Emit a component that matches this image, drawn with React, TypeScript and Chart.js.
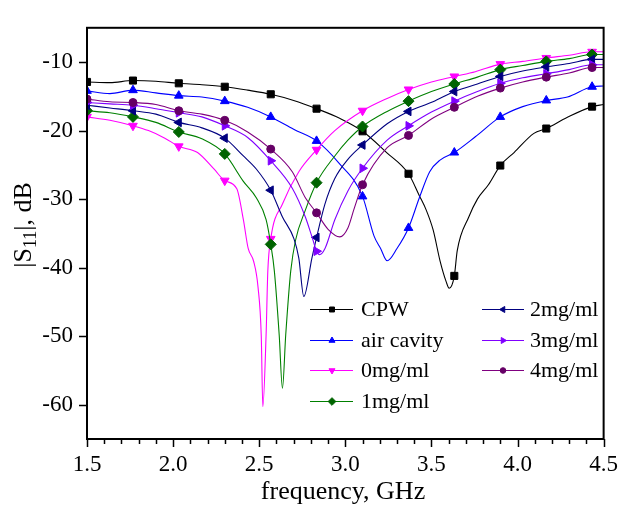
import React, { useEffect, useRef } from "react";
import { Chart, registerables } from "chart.js";
import { drawPoint } from "chart.js/helpers";

Chart.register(...registerables);

const seriesLabels = ["CPW", "air cavity", "0mg/ml", "1mg/ml", "2mg/ml", "3mg/ml", "4mg/ml"];

const cpwF = [1.5, 1.633, 1.767, 1.9, 2.033, 2.167, 2.3, 2.433, 2.567, 2.7, 2.833, 2.967, 3.1, 3.24, 3.367, 3.43, 3.47, 3.51, 3.55, 3.585, 3.603, 3.633, 3.65, 3.717, 3.767, 3.831, 3.9, 3.98, 4.095, 4.167, 4.287, 4.433, 4.5];
const cpwV = [-12.9, -13.0, -12.7, -12.8, -13.1, -13.3, -13.6, -14.1, -14.7, -15.6, -16.8, -18.2, -20.1, -23.2, -26.3, -29.5, -31.6, -34.5, -39.0, -42.0, -43.0, -41.2, -37.5, -32.6, -30.0, -27.9, -25.1, -23.2, -20.4, -19.7, -18.1, -16.5, -16.2];

const airF = [1.5, 1.633, 1.767, 1.9, 2.033, 2.167, 2.3, 2.433, 2.567, 2.7, 2.833, 2.958, 3.1, 3.167, 3.205, 3.243, 3.3, 3.367, 3.43, 3.49, 3.55, 3.633, 3.755, 3.9, 4.03, 4.167, 4.29, 4.433, 4.5];
const airV = [-14.2, -14.6, -14.1, -14.5, -14.9, -15.1, -15.7, -16.6, -18.0, -19.8, -21.5, -24.6, -29.6, -35.4, -37.2, -39.0, -37.2, -34.2, -29.8, -26.0, -24.3, -23.2, -20.9, -18.0, -16.5, -15.6, -15.1, -13.6, -13.5];

const mg0F = [1.5, 1.633, 1.767, 1.857, 1.952, 2.033, 2.142, 2.237, 2.3, 2.37, 2.408, 2.436, 2.468, 2.493, 2.512, 2.521, 2.54, 2.55, 2.567, 2.635, 2.73, 2.833, 2.939, 3.1, 3.243, 3.367, 3.5, 3.633, 3.755, 3.9, 4.03, 4.167, 4.3, 4.433, 4.5];
const mg0V = [-18.0, -18.5, -19.3, -20.0, -21.1, -22.3, -23.2, -25.6, -27.3, -28.5, -33.0, -37.2, -39.1, -42.8, -50.0, -60.3, -49.8, -40.5, -35.8, -30.7, -26.0, -22.8, -20.0, -17.1, -15.3, -14.0, -12.9, -12.1, -11.4, -10.3, -9.9, -9.4, -9.0, -8.5, -8.5];

const mg1F = [1.5, 1.633, 1.767, 1.9, 2.033, 2.167, 2.3, 2.408, 2.483, 2.54, 2.567, 2.588, 2.616, 2.635, 2.654, 2.683, 2.711, 2.768, 2.833, 2.939, 3.015, 3.1, 3.243, 3.367, 3.5, 3.633, 3.767, 3.9, 4.03, 4.167, 4.3, 4.433, 4.5];
const mg1V = [-17.1, -17.4, -18.0, -18.8, -20.2, -21.2, -23.4, -27.4, -29.8, -33.0, -36.6, -40.5, -49.8, -57.6, -49.8, -40.5, -36.0, -31.6, -27.6, -23.7, -21.4, -19.4, -17.2, -15.7, -14.3, -13.2, -12.2, -11.1, -10.5, -9.9, -9.5, -8.9, -8.9];

const mg2F = [1.5, 1.633, 1.767, 1.9, 2.033, 2.167, 2.3, 2.408, 2.483, 2.567, 2.635, 2.702, 2.73, 2.759, 2.806, 2.833, 2.882, 2.939, 3.015, 3.1, 3.243, 3.367, 3.509, 3.633, 3.767, 3.9, 4.03, 4.167, 4.3, 4.433, 4.5];
const mg2V = [-16.3, -16.7, -17.1, -17.6, -18.8, -19.6, -21.1, -23.7, -25.6, -28.7, -32.6, -35.8, -38.6, -44.2, -38.6, -35.6, -30.7, -27.0, -24.2, -22.1, -19.0, -17.2, -15.8, -14.3, -13.2, -12.1, -11.3, -10.7, -10.2, -9.6, -9.6];

const mg3F = [1.5, 1.633, 1.767, 1.9, 2.033, 2.167, 2.3, 2.433, 2.567, 2.692, 2.768, 2.81, 2.833, 2.85, 2.882, 2.939, 3.015, 3.1, 3.243, 3.367, 3.5, 3.633, 3.767, 3.9, 4.03, 4.167, 4.3, 4.433, 4.5];
const mg3V = [-15.9, -16.1, -16.3, -16.8, -17.4, -18.0, -19.3, -21.0, -24.4, -28.4, -32.6, -35.8, -37.6, -38.1, -37.2, -33.0, -28.8, -25.5, -21.4, -19.3, -17.3, -15.7, -14.3, -13.1, -12.3, -11.7, -11.1, -10.4, -10.4];

const mg4F = [1.5, 1.633, 1.767, 1.9, 2.033, 2.167, 2.3, 2.433, 2.567, 2.692, 2.768, 2.833, 2.9, 2.968, 3.015, 3.05, 3.1, 3.243, 3.367, 3.5, 3.633, 3.767, 3.9, 4.03, 4.167, 4.3, 4.433, 4.5];
const mg4V = [-15.4, -15.8, -15.9, -16.2, -17.1, -17.6, -18.5, -20.2, -22.7, -26.0, -29.8, -32.0, -34.4, -35.5, -34.2, -31.5, -27.9, -22.5, -20.7, -18.3, -16.6, -15.0, -13.8, -12.9, -12.2, -11.6, -10.8, -10.8];

const xMajorTicks = [1.5, 2.0, 2.5, 3.0, 3.5, 4.0, 4.5];
const yMajorTicks = [-60, -50, -40, -30, -20, -10];

const lineColors = ["#000000", "#0000ff", "#ff00ff", "#008000", "#000080", "#8000ff", "#800080"];
const markerColors = ["#000000", "#0000ff", "#ff00ff", "#006400", "#000080", "#8000ff", "#660066"];
const markerStyles = ["rect", "triangle", "triangle", "rectRot", "triangle", "triangle", "circle"];
const markerRotations = [0, 0, 180, 0, 270, 90, 0];
const markerRadii = [5, 5, 5, 5.5, 5, 5, 4];

const FREQS = [cpwF, airF, mg0F, mg1F, mg2F, mg3F, mg4F];
const VALS = [cpwV, airV, mg0V, mg1V, mg2V, mg3V, mg4V];

const SERIF = "'Liberation Serif', 'Times New Roman', serif";
const MARK_STEP = 4 / 15;

function isMarker(x: number) {
  const k = (x - 1.5) / MARK_STEP;
  return Math.abs(k - Math.round(k)) < 0.03;
}

const decorPlugin = {
  id: "decor",
  afterDraw(chart: any) {
    const { ctx, chartArea } = chart;
    const xs = chart.scales.x;
    const ys = chart.scales.y;
    const { left, right, top, bottom } = chartArea;
    ctx.save();
    // frame
    ctx.strokeStyle = "#000";
    ctx.lineWidth = 2;
    ctx.strokeRect(left, top, right - left, bottom - top);
    // ticks
    ctx.lineWidth = 1.5;
    ctx.beginPath();
    for (let i = 0; i <= 30; i++) {
      const v = 1.5 + i * 0.1;
      const px = Math.round(xs.getPixelForValue(v)) + 0.5;
      const len = i % 5 === 0 ? 8 : 5;
      ctx.moveTo(px, bottom);
      ctx.lineTo(px, bottom + len);
    }
    for (const v of yMajorTicks) {
      const py = Math.round(ys.getPixelForValue(v)) + 0.5;
      ctx.moveTo(left, py);
      ctx.lineTo(left - 8, py);
    }
    ctx.stroke();

    // x title
    ctx.fillStyle = "#000";
    ctx.font = `26px ${SERIF}`;
    ctx.textAlign = "center";
    ctx.textBaseline = "alphabetic";
    ctx.fillText("frequency, GHz", 343, 499);

    // y title with subscript
    ctx.save();
    ctx.translate(31, 225);
    ctx.rotate(-Math.PI / 2);
    const big = `26px ${SERIF}`;
    const small = `18px ${SERIF}`;
    ctx.font = big;
    const w1 = ctx.measureText("|S").width;
    const w3 = ctx.measureText("|, dB").width;
    ctx.font = small;
    const w2 = ctx.measureText("11").width;
    const total = w1 + w2 + w3;
    let cx = -total / 2;
    ctx.textAlign = "left";
    ctx.font = big;
    ctx.fillText("|S", cx, 0);
    cx += w1;
    ctx.font = small;
    ctx.fillText("11", cx, 5);
    cx += w2;
    ctx.font = big;
    ctx.fillText("|, dB", cx, 0);
    ctx.restore();

    // legend
    const rowsY = [309, 340, 370, 401];
    const cols = [
      { x0: 310, x1: 353, mx: 332, tx: 361 },
      { x0: 482, x1: 524, mx: 503, tx: 530 },
    ];
    ctx.font = `22px ${SERIF}`;
    ctx.textAlign = "left";
    ctx.textBaseline = "middle";
    seriesLabels.forEach((lab, i) => {
      const col = i < 4 ? cols[0] : cols[1];
      const y = i < 4 ? rowsY[i] : rowsY[i - 4];
      ctx.strokeStyle = lineColors[i];
      ctx.lineWidth = 1.2;
      ctx.beginPath();
      ctx.moveTo(col.x0, y + 0.5);
      ctx.lineTo(col.x1, y + 0.5);
      ctx.stroke();
      ctx.fillStyle = markerColors[i];
      ctx.strokeStyle = markerColors[i];
      ctx.lineWidth = 1;
      drawPoint(ctx, { pointStyle: markerStyles[i], rotation: markerRotations[i], radius: markerRadii[i] * 0.7, borderWidth: 1 }, col.mx, y + 0.5);
      ctx.fillStyle = "#000";
      ctx.fillText(lab, col.tx, y + 1);
    });
    ctx.restore();
  },
};

export default function App() {
  const canvasRef = useRef<HTMLCanvasElement | null>(null);

  useEffect(() => {
    document.body.style.margin = "0";
    const canvas = canvasRef.current;
    if (!canvas) return;
    const datasets = seriesLabels.map((lab, i) => ({
      label: lab,
      order: seriesLabels.length - 1 - i,
      data: FREQS[i].map((f, j) => ({ x: f, y: VALS[i][j] })),
      borderColor: lineColors[i],
      backgroundColor: markerColors[i],
      pointBorderColor: markerColors[i],
      pointBackgroundColor: markerColors[i],
      borderWidth: 1.1,
      pointStyle: markerStyles[i],
      pointRotation: markerRotations[i],
      pointRadius: (c: any) => (c.raw && isMarker(c.raw.x) ? markerRadii[i] : 0),
      pointHoverRadius: 0,
      pointBorderWidth: 1,
      tension: 0.4,
      cubicInterpolationMode: "monotone" as const,
      fill: false,
    }));
    const chart = new Chart(canvas, {
      type: "line",
      data: { datasets },
      options: {
        animation: false,
        responsive: false,
        maintainAspectRatio: false,
        devicePixelRatio: 1,
        layout: { padding: { left: 0, top: 10, right: 16, bottom: 0 } },
        plugins: { legend: { display: false }, tooltip: { enabled: false }, title: { display: false } },
        scales: {
          x: {
            type: "linear",
            min: 1.5,
            max: 4.5,
            grid: { display: false, drawTicks: false },
            border: { display: false },
            afterFit: (s: any) => { s.height = 67; },
            afterBuildTicks: (s: any) => { s.ticks = xMajorTicks.map((v) => ({ value: v })); },
            ticks: {
              color: "#000",
              font: { family: SERIF, size: 23 },
              padding: 12,
              maxRotation: 0,
              autoSkip: false,
              callback: (v: any) => Number(v).toFixed(1),
            },
          },
          y: {
            type: "linear",
            min: -65,
            max: -5,
            grid: { display: false, drawTicks: false },
            border: { display: false },
            afterFit: (s: any) => { s.width = 87; },
            afterBuildTicks: (s: any) => { s.ticks = yMajorTicks.map((v) => ({ value: v })); },
            ticks: {
              color: "#000",
              font: { family: SERIF, size: 23 },
              padding: 14,
              autoSkip: false,
              callback: (v: any) => String(v),
            },
          },
        },
      },
      plugins: [decorPlugin],
    });
    return () => chart.destroy();
  }, []);

  return (
    <div style={{ position: "absolute", left: 0, top: 0, width: 630, height: 506, background: "#fff" }}>
      <canvas ref={canvasRef} width={630} height={506} style={{ width: 630, height: 506 }} />
    </div>
  );
}
